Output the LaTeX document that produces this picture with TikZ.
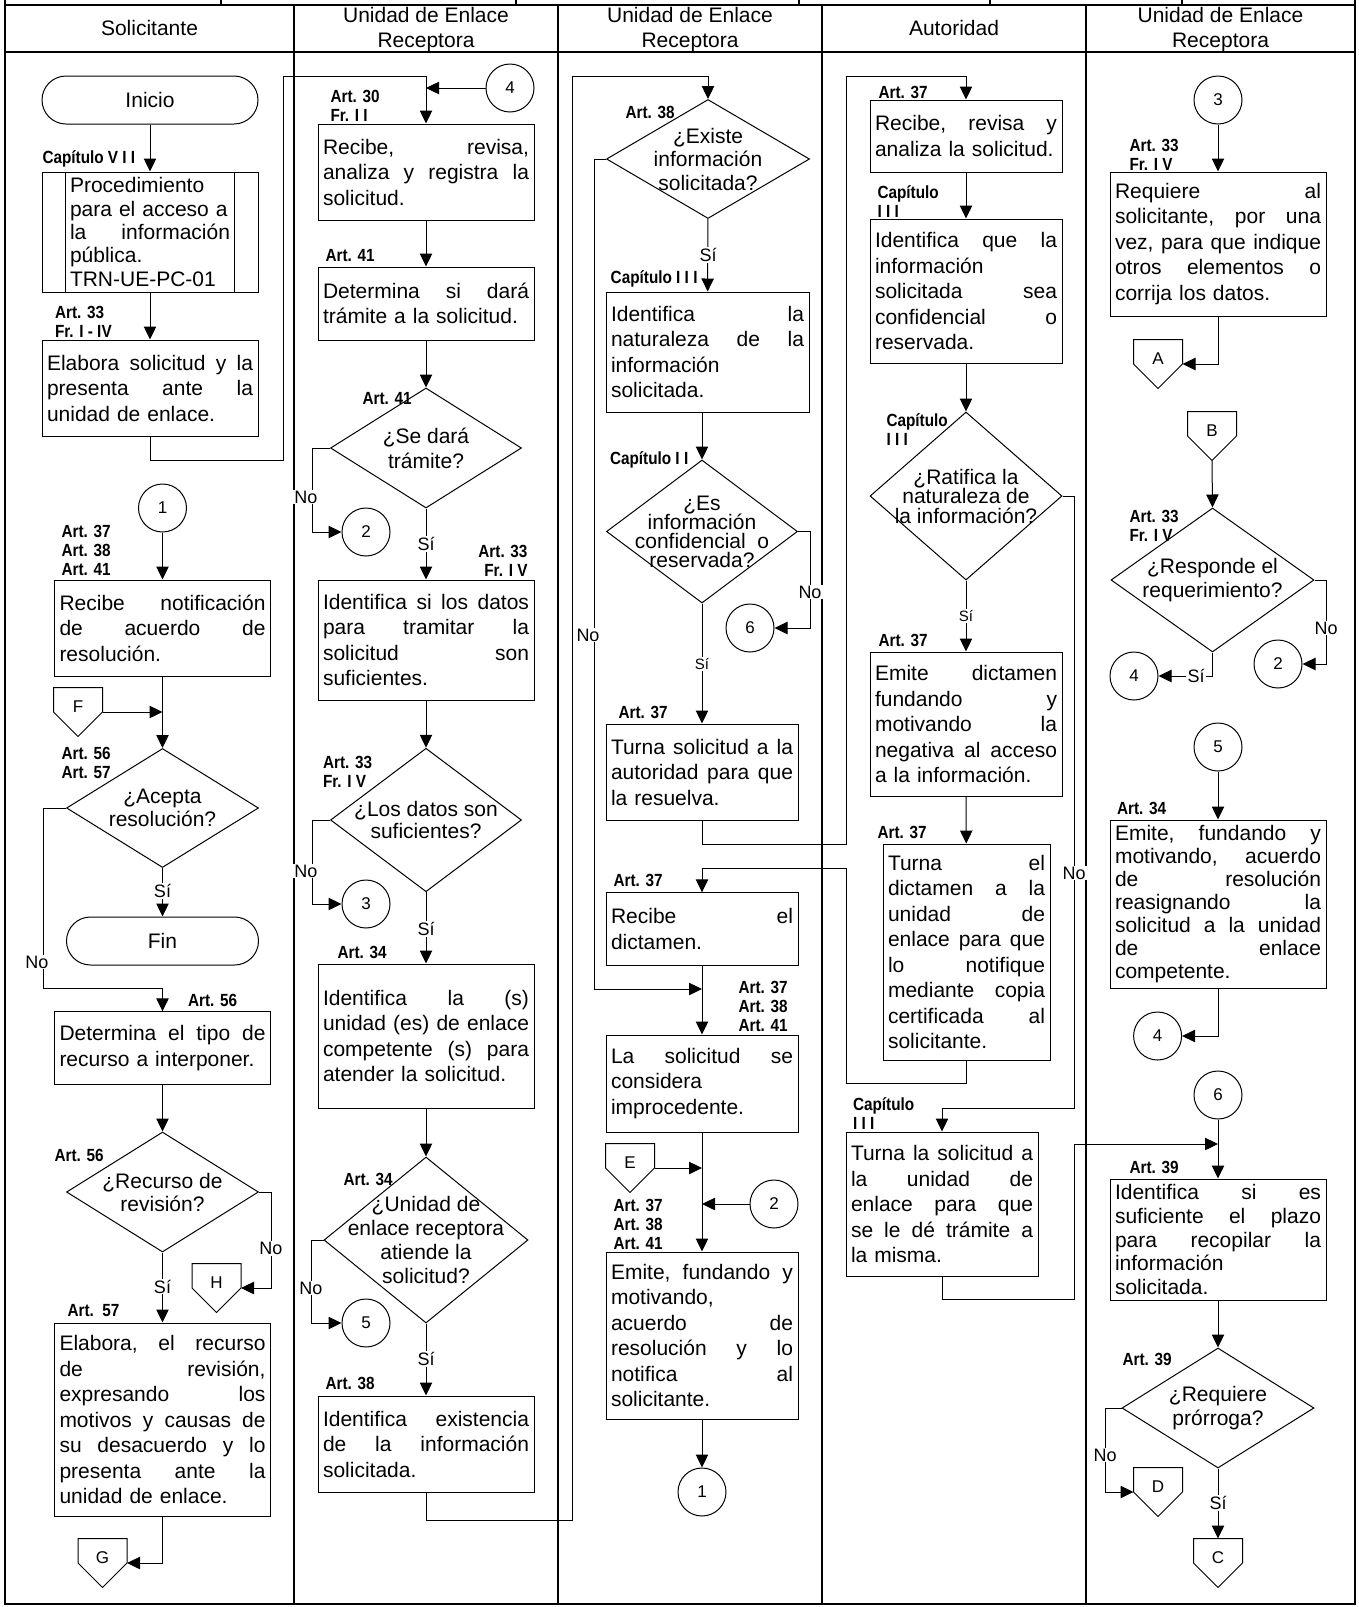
\documentclass[tikz,border=0pt]{standalone}
\usepackage{fontspec}
\setmainfont{Liberation Sans}
\newfontfamily\narrowsans[FakeStretch=0.87]{Liberation Sans}
\usetikzlibrary{arrows.meta,shapes.geometric}
\newcommand\boxfont{\fontsize{10.5}{12.75}\selectfont\hyphenpenalty=10000\relax}
\newcommand\hdrfont{\fontsize{10.5}{12.5}\selectfont}
\newcommand\artfont{\narrowsans\bfseries\fontsize{8.8}{9.5}\selectfont\lineskiplimit=-10pt\relax}
\newcommand\numfont{\fontsize{8.5}{10}\selectfont}
\newcommand\ynfont{\fontsize{9}{10}\selectfont}
\newcommand\dfont[1]{\fontsize{10.5}{#1}\selectfont\lineskiplimit=-10pt\relax}

\begin{document}
\begin{tikzpicture}[x=.5pt,y=-.5pt,line width=.5pt,
  arr/.style={-{Triangle[length=6.5pt,width=6.2pt]}},
  lane/.style={line width=.9pt},
  proc/.style={draw,align=left,inner xsep=2.5pt,inner ysep=0pt,text width=#1,font=\boxfont},
  proc/.default=103pt,
  term/.style={draw,rounded corners=12pt,minimum height=24pt,font=\boxfont},
  dec/.style={draw,diamond,inner sep=0pt},
  dtxt/.style={align=center,inner sep=0pt},
  conn/.style={draw,circle,minimum size=24pt,inner sep=0pt,font=\numfont},
  pent/.style={minimum width=24pt,minimum height=24pt,inner sep=0pt,text height=5pt,text depth=5pt,font=\numfont},
  art/.style={anchor=west,align=left,inner sep=0pt,font=\artfont},
  hdr/.style={align=center,font=\hdrfont},
  yn/.style={fill=white,inner sep=.6pt,font=\ynfont}]
  \useasboundingbox (0,0) rectangle (1359,1607);

  % frame and lanes
  \draw[lane] (5,0) -- (5,1604) -- (1355,1604) -- (1355,0);
  \draw[lane] (5,5) -- (1355,5);
  \draw[line width=1.2pt] (5,52) -- (1355,52);
  \foreach \x in {294,558,822,1086} \draw[lane] (\x,5) -- (\x,1604);
  \foreach \x in {221,516,799,990,1182} \draw[lane] (\x,0) -- (\x,5);
  \node[hdr] (h1) at (149.5,28) {Solicitante};
  \node[hdr] (h2) at (426,29.5) {Unidad de Enlace\\Receptora};
  \node[hdr] (h3) at (690,29.5) {Unidad de Enlace\\Receptora};
  \node[hdr] (h4) at (954,28) {Autoridad};
  \node[hdr] (h5) at (1220.5,29.5) {Unidad de Enlace\\Receptora};

  % Solicitante
  \node[term,minimum width=108pt] (ini) at (150,100) {Inicio};
  \node[draw,align=left,inner xsep=14pt,inner ysep=0pt,text width=80pt,minimum height=60pt,
    font=\fontsize{10.5}{11.65}\selectfont] (sub) at (150,232)
    {Procedimiento\\para el acceso a\\la\hfill información\\pública.\\TRN-UE-PC-01};
  \draw ([xshift=12pt]sub.north west) -- ([xshift=12pt]sub.south west);
  \draw ([xshift=-12pt]sub.north east) -- ([xshift=-12pt]sub.south east);
  \node[proc,minimum height=48pt] (elab) at (150,388)
    {Elabora\hfill solicitud\hfill y\hfill la\\presenta\hfill ante\hfill la\\unidad de enlace.};
  \node[conn] (c1a) at (162.5,508) {1};
  \node[proc,minimum height=48pt] (notif) at (162.5,628)
    {Recibe\hfill notificación\\de\hfill acuerdo\hfill de\\resolución.};
  \node[pent] (pF) at (78,712) {F};
  \node[dec,minimum width=96pt,minimum height=59.5pt] (acep) at (162.5,808) {};
  \node[dtxt,font=\dfont{11.5pt}] (acep-t) at (acep.center) {¿Acepta\\resolución?};
  \node[term,minimum width=96pt] (fin) at (162.5,941) {Fin};
  \node[proc,minimum height=36.2pt] (tipo) at (162.5,1048)
    {Determina\hfill el\hfill tipo\hfill de\\recurso a interponer.};
  \node[dec,minimum width=96pt,minimum height=60pt] (recu) at (162.5,1192) {};
  \node[dtxt,font=\dfont{11.5pt}] (recu-t) at (recu.center) {¿Recurso de\\revisión?};
  \node[pent] (pH) at (216.5,1288) {H};
  \node[proc,minimum height=96.5pt] (elab2) at (162.5,1419.5)
    {Elabora,\hfill el\hfill recurso\\de\hfill revisión,\\expresando\hfill los\\motivos\hfill y\hfill causas\hfill de\\su\hfill desacuerdo\hfill y\hfill lo\\presenta\hfill ante\hfill la\\unidad de enlace.};
  \node[pent] (pG) at (102.5,1563) {G};

  % Unidad de Enlace Receptora (1)
  \node[conn] (c4a) at (510,88) {4};
  \node[proc,minimum height=48pt] (rec) at (426,172)
    {Recibe,\hfill revisa,\\analiza\hfill y\hfill registra\hfill la\\solicitud.};
  \node[proc,minimum height=36.5pt] (det) at (426,303.5)
    {Determina\hfill si\hfill dará\\trámite a la solicitud.};
  \node[dec,minimum width=95.5pt,minimum height=60pt] (dara) at (426,448) {};
  \node[dtxt,font=\dfont{12.5pt}] (dara-t) at (dara.center) {¿Se dará\\trámite?};
  \node[conn] (c2a) at (366,532) {2};
  \node[proc,minimum height=60pt] (datos) at (426,640)
    {Identifica\hfill si\hfill los\hfill datos\\para\hfill tramitar\hfill la\\solicitud\hfill son\\suficientes.};
  \node[dec,minimum width=95.5pt,minimum height=71.75pt] (suf) at (426,820) {};
  \node[dtxt,font=\dfont{11.25pt}] (suf-t) at (suf.center) {¿Los datos son\\suficientes?};
  \node[conn] (c3a) at (366,904) {3};
  \node[proc,minimum height=72pt] (comp) at (426,1036)
    {Identifica\hfill la\hfill (s)\\unidad\hfill (es)\hfill de\hfill enlace\\competente\hfill (s)\hfill para\\atender la solicitud.};
  \node[dec,minimum width=102pt,minimum height=83pt] (aten) at (426,1240) {};
  \node[dtxt,font=\dfont{11.85pt}] (aten-t) at (aten.center) {¿Unidad de\\enlace receptora\\atiende la\\solicitud?};
  \node[conn] (c5a) at (366,1323) {5};
  \node[proc,minimum height=48pt] (exist) at (426,1444)
    {Identifica\hfill existencia\\de\hfill la\hfill información\\solicitada.};

  % Unidad de Enlace Receptora (2)
  \node[dec,minimum width=101.5pt,minimum height=59.5pt] (hay) at (708,159) {};
  \node[dtxt,font=\dfont{11.75pt}] (hay-t) at (hay.center) {¿Existe\\información\\solicitada?};
  \node[proc=96.5pt,minimum height=60pt] (nat) at (707.5,352)
    {Identifica\hfill la\\naturaleza\hfill de\hfill la\\información\\solicitada.};
  \node[dec,minimum width=95.5pt,minimum height=71.5pt] (conf) at (702,531.5) {};
  \node[dtxt,font=\dfont{9.5pt}] (conf-t) at (conf.center) {¿Es\\información\\confidencial\ \ o\\reservada?};
  \node[conn] (c6a) at (750,628) {6};
  \node[proc=91pt,minimum height=48pt] (turn1) at (702,772)
    {Turna\hfill solicitud\hfill a\hfill la\\autoridad\hfill para\hfill que\\la resuelva.};
  \node[proc=91pt,minimum height=36.2pt] (recd) at (702,929) {Recibe\hfill el\\dictamen.};
  \node[proc=91pt,minimum height=48.5pt] (impro) at (702,1083.5)
    {La\hfill solicitud\hfill se\\considera\\improcedente.};
  \node[pent] (pE) at (630,1168) {E};
  \node[conn] (c2b) at (774,1204) {2};
  \node[proc=91pt,minimum height=83.5pt] (emi) at (702,1335.5)
    {Emite,\hfill fundando\hfill y\\motivando,\\acuerdo\hfill de\\resolución\hfill y\hfill lo\\notifica\hfill al\\solicitante.};
  \node[conn] (c1b) at (702,1492) {1};
  \coordinate (j1) at (702,989);

  % Autoridad
  \node[proc=91pt,minimum height=36pt] (rra) at (966,136) {Recibe,\hfill revisa\hfill y\\analiza la solicitud.};
  \node[proc=91pt,minimum height=72pt] (ide) at (966,291)
    {Identifica\hfill que\hfill la\\información\\solicitada\hfill sea\\confidencial\hfill o\\reservada.};
  \node[dec,minimum width=96pt,minimum height=84pt] (rat) at (966,496) {};
  \node[dtxt,font=\dfont{9.75pt}] (rat-t) at (rat.center) {¿Ratifica la\\naturaleza de\\la información?};
  \node[proc=91pt,minimum height=72pt] (dict) at (966,724)
    {Emite\hfill dictamen\\fundando\hfill y\\motivando\hfill la\\negativa\hfill al\hfill acceso\\a la información.};
  \node[proc=78.5pt,minimum height=108pt] (turn2) at (966.5,952)
    {Turna\hfill el\\dictamen\hfill a\hfill la\\unidad\hfill de\\enlace\hfill para\hfill que\\lo\hfill notifique\\mediante\hfill copia\\certificada\hfill al\\solicitante.};
  \node[proc=91pt,minimum height=72pt] (turn3) at (942,1204)
    {Turna\hfill la\hfill solicitud\hfill a\\la\hfill unidad\hfill de\\enlace\hfill para\hfill que\\se\hfill le\hfill dé\hfill trámite\hfill a\\la misma.};

  % Unidad de Enlace Receptora (3)
  \node[conn] (c3b) at (1218,100) {3};
  \node[proc,minimum height=72pt] (req) at (1218,244)
    {Requiere\hfill al\\solicitante,\hfill por\hfill una\\vez,\hfill para\hfill que\hfill indique\\otros\hfill elementos\hfill o\\corrija los datos.};
  \node[pent] (pA) at (1158,364) {A};
  \node[pent] (pB) at (1212,436) {B};
  \node[dec,minimum width=101.5pt,minimum height=72pt] (resp) at (1212.5,580) {};
  \node[dtxt,font=\dfont{12pt}] (resp-t) at (resp.center) {¿Responde el\\requerimiento?};
  \node[conn] (c2c) at (1278,664) {2};
  \node[conn] (c4b) at (1134,676) {4};
  \node[conn] (c5b) at (1218,747) {5};
  \node[proc,minimum height=84pt,font=\fontsize{10.5}{11.5}\selectfont] (reas) at (1218,904)
    {Emite,\hfill fundando\hfill y\\motivando,\hfill acuerdo\\de\hfill resolución\\reasignando\hfill la\\solicitud\hfill a\hfill la\hfill unidad\\de\hfill enlace\\competente.};
  \node[conn] (c4c) at (1157.6,1036) {4};
  \node[conn] (c6b) at (1218,1095) {6};
  \coordinate (j2) at (1218,1144);
  \node[proc,minimum height=60.5pt,font=\fontsize{10.5}{11.85}\selectfont] (plazo) at (1218,1239.5)
    {Identifica\hfill si\hfill es\\suficiente\hfill el\hfill plazo\\para\hfill recopilar\hfill la\\información\\solicitada.};
  \node[dec,minimum width=96pt,minimum height=60pt] (pror) at (1218,1408) {};
  \node[dtxt,font=\dfont{12pt}] (pror-t) at (pror.center) {¿Requiere\\prórroga?};
  \node[pent] (pD) at (1158,1492) {D};
  \node[pent] (pC) at (1218,1563) {C};

  \foreach \p in {pF,pG,pH,pE,pA,pB,pC,pD}
    \draw (\p.north west) -- (\p.north east) -- (\p.east) -- (\p.south) -- (\p.west) -- cycle;

  % connectors
  \draw[arr] (ini) -- (sub);
  \draw[arr] (sub) -- (elab);
  \draw[arr] (elab.south) -- (150,460) -- (283,460) -- (283,76) -| (rec.north);
  \draw[arr] (c1a) -- (notif);
  \draw[arr] (notif) -- (acep);
  \draw[arr] (pF.east) -- (pF.east -| acep.north);
  \draw[arr] (acep) -- (fin);
  \draw[arr] (acep.west) -- (43,808) -- (43,988) -| (tipo.north);
  \draw[arr] (tipo) -- (recu);
  \draw[arr] (recu.east) -- (271,1192) |- (pH.east);
  \draw[arr] (recu) -- (elab2);
  \draw[arr] (elab2.south) |- (pG.east);

  \draw[arr] (c4a) -- (c4a -| rec.north);
  \draw[arr] (rec) -- (det);
  \draw[arr] (det) -- (dara);
  \draw[arr] (dara.west) -- (312.5,448) |- (c2a.west);
  \draw[arr] (dara) -- (datos);
  \draw[arr] (datos) -- (suf);
  \draw[arr] (suf.west) -- (312.5,820) |- (c3a.west);
  \draw[arr] (suf) -- (comp);
  \draw[arr] (comp) -- (aten);
  \draw[arr] (aten.west) -- (311,1240) |- (c5a.west);
  \draw[arr] (aten) -- (exist);
  \draw[arr] (exist.south) -- (426,1520) -- (572,1520) -- (572,76) -| (hay.north);

  \draw[arr] (hay) -- (nat);
  \draw[arr] (nat.south -| conf.north) -- (conf.north);
  \draw[arr] (conf.east) -- (810,531.5) |- (c6a.east);
  \draw[arr] (conf) -- (turn1);
  \draw[arr] (turn1.south) -- (702,844) -- (846,844) -- (846,76) -| (rra.north);
  \draw[arr] (hay.west) -- (594,159) |- (j1);
  \draw[arr] (recd) -- (impro);
  \draw[arr] (impro) -- (emi);
  \draw[arr] (pE.east) -- (pE.east -| emi.north);
  \draw[arr] (c2b) -- (c2b -| emi.north);
  \draw[arr] (emi) -- (c1b);

  \draw[arr] (rra) -- (ide);
  \draw[arr] (ide) -- (rat);
  \draw[arr] (rat) -- (dict);
  \draw[arr] (dict) -- (turn2);
  \draw[arr] (turn2.south) -- (966.5,1083) -- (846,1083) -- (846,868) -| (recd.north);
  \draw[arr] (rat.east) -- (1074,496) -- (1074,1108) -| (turn3.north);
  \draw[arr] (turn3.south) -- (942,1299) -- (1074.5,1299) |- (j2);

  \draw[arr] (c3b) -- (req);
  \draw[arr] (req.south) |- (pA.east);
  \draw[arr] (pB.south) -- (resp.north);
  \draw[arr] (resp.east) -- (1326,580) |- (c2c.east);
  \draw[arr] (resp.south) |- (c4b.east);
  \draw[arr] (c5b) -- (reas);
  \draw[arr] (reas.south) |- (c4c.east);
  \draw[arr] (c6b) -- (plazo);
  \draw[arr] (plazo) -- (pror);
  \draw[arr] (pror.west) -- (1105,1408) |- (pD.west);
  \draw[arr] (pror) -- (pC.north);

  % branch labels
  \node[yn] (no1) at (37,962) {No};
  \node[yn] (si1) at (162.5,891) {Sí};
  \node[yn] (no2) at (271,1248.5) {No};
  \node[yn] (si2) at (162.5,1286.5) {Sí};
  \node[yn] (no3) at (306,497) {No};
  \node[yn] (si3) at (426,544) {Sí};
  \node[yn] (no4) at (306,871) {No};
  \node[yn] (si4) at (426,929) {Sí};
  \node[yn] (no5) at (311,1288) {No};
  \node[yn] (si5) at (426,1359) {Sí};
  \node[yn] (si6) at (708,255) {Sí};
  \node[yn] (no6) at (810,592) {No};
  \node[yn,font=\fontsize{7.5}{9}\selectfont] (si7) at (702,664) {Sí};
  \node[yn] (no7) at (588,635) {No};
  \node[yn,font=\fontsize{7.5}{9}\selectfont] (si8) at (966,616) {Sí};
  \node[yn] (no8) at (1074,873) {No};
  \node[yn] (no9) at (1326,628) {No};
  \node[yn] (si9) at (1196,676) {Sí};
  \node[yn] (no10) at (1105,1455) {No};
  \node[yn] (si10) at (1218,1503) {Sí};

  % article labels
  \node[art] (cap7) at (42,159) {Capítulo V I I};
  \node[art] (art33a) at (54.5,321.5) {Art. 33\\Fr. I - IV};
  \node[art] (art37a) at (61,550) {Art. 37\\Art. 38\\Art. 41};
  \node[art] (art56a) at (61,762.5) {Art. 56\\Art. 57};
  \node[art] (art56b) at (187.5,1000) {Art. 56};
  \node[art] (art56c) at (54,1155) {Art. 56};
  \node[art] (art57a) at (67,1311) {Art.\ \ 57};
  \node[art] (art30) at (330,105.5) {Art. 30\\Fr. I I};
  \node[art] (art41a) at (325,256) {Art. 41};
  \node[art] (art41b) at (362,399) {Art. 41};
  \node[art,anchor=east,align=right] (art33b) at (528,560.5) {Art. 33\\Fr. I V};
  \node[art] (art33c) at (322.5,771.5) {Art. 33\\Fr. I V};
  \node[art] (art34a) at (337,952) {Art. 34};
  \node[art] (art34b) at (343,1179) {Art. 34};
  \node[art] (art38a) at (325,1383) {Art. 38};
  \node[art] (art38b) at (625,112) {Art. 38};
  \node[art,anchor=east] (cap3a) at (698,279) {Capítulo I I I};
  \node[art] (cap2) at (609.5,460) {Capítulo I I};
  \node[art] (art37b) at (618,712) {Art. 37};
  \node[art] (art37c) at (613,880) {Art. 37};
  \node[art] (art37d) at (738,1006) {Art. 37\\Art. 38\\Art. 41};
  \node[art] (art37e) at (613,1224.5) {Art. 37\\Art. 38\\Art. 41};
  \node[art] (art37f) at (878,92) {Art. 37};
  \node[art] (cap3b) at (877,201.5) {Capítulo\\I I I};
  \node[art] (cap3c) at (886,429.5) {Capítulo\\I I I};
  \node[art] (art37g) at (878,640) {Art. 37};
  \node[art] (art37h) at (877,832) {Art. 37};
  \node[art] (cap3d) at (852.5,1113.5) {Capítulo\\I I I};
  \node[art] (art33d) at (1129,155) {Art. 33\\Fr. I V};
  \node[art] (art33e) at (1129,526) {Art. 33\\Fr. I V};
  \node[art] (art34c) at (1116.5,808.5) {Art. 34};
  \node[art] (art39a) at (1129,1167) {Art. 39};
  \node[art] (art39b) at (1122,1359) {Art. 39};
\end{tikzpicture}
\end{document}
